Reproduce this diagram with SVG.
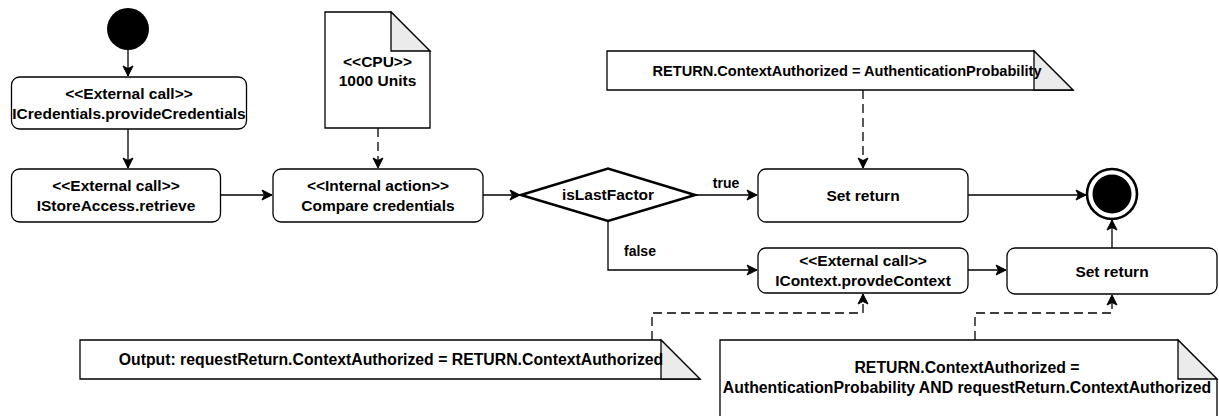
<svg xmlns="http://www.w3.org/2000/svg" width="1219" height="416" viewBox="0 0 1219 416">
  <style>
    .box { fill: #ffffff; stroke: #000000; stroke-width: 1.3; }
    .note { fill: #ffffff; stroke: #000000; stroke-width: 1.3; }
    .fold { fill: #ebebeb; stroke: #000000; stroke-width: 1.3; stroke-linejoin: miter; }
    .edge { fill: none; stroke: #000000; stroke-width: 1.3; }
    .dash { fill: none; stroke: #000000; stroke-width: 1.3; stroke-dasharray: 9 5; }
    text { font-family: "Liberation Sans", Arial, Helvetica, sans-serif; font-weight: bold; font-size: 15.5px; fill: #000000; text-anchor: middle; }
    .lbl { font-size: 14px; }
    .small { font-size: 14.6px; }
    .wide { font-size: 15.8px; }
  </style>
  <defs>
    <marker id="arrow" markerUnits="userSpaceOnUse" markerWidth="12" markerHeight="12" viewBox="-1 -6 12 12" refX="10" refY="0" orient="auto">
      <path d="M0,-5 L10,0 L0,5 L2.5,0 Z" fill="#000000" stroke="#000000" stroke-width="1"/>
    </marker>
  </defs>

  <!-- start state -->
  <g id="start">
    <circle cx="128" cy="29" r="21" fill="#000000"/>
  </g>

  <g id="provideCredentials">
    <rect class="box" x="11.5" y="77" width="235" height="52" rx="8"/>
    <text x="129" y="99">&lt;&lt;External call&gt;&gt;</text>
    <text x="129" y="119">ICredentials.provideCredentials</text>
  </g>

  <g id="retrieve">
    <rect class="box" x="11.5" y="169" width="209" height="53" rx="8"/>
    <text x="116" y="191">&lt;&lt;External call&gt;&gt;</text>
    <text x="116" y="211">IStoreAccess.retrieve</text>
  </g>

  <g id="cpuNote">
    <path class="note" d="M325,12 H391 L430,51 V128 H325 Z"/>
    <path class="fold" d="M391,12 V51 H430 Z"/>
    <text x="377.5" y="67">&lt;&lt;CPU&gt;&gt;</text>
    <text x="377.5" y="86">1000 Units</text>
  </g>

  <g id="compareCredentials">
    <rect class="box" x="273" y="169" width="210" height="53" rx="8"/>
    <text x="378" y="191">&lt;&lt;Internal action&gt;&gt;</text>
    <text x="378" y="211">Compare credentials</text>
  </g>

  <g id="isLastFactor">
    <path d="M521,195 L608,168.5 L695,195 L608,221 Z" fill="#ffffff" stroke="#000000" stroke-width="2.6" stroke-linejoin="miter"/>
    <text x="608" y="200">isLastFactor</text>
  </g>

  <g id="returnNote">
    <path class="note" d="M607,51 H1034 L1073,90 H607 Z"/>
    <path class="fold" d="M1034,51 V90 H1073 Z"/>
    <text class="small" x="847" y="76">RETURN.ContextAuthorized = AuthenticationProbability</text>
  </g>

  <g id="setReturnTrue">
    <rect class="box" x="758" y="169" width="210" height="53" rx="8"/>
    <text x="863" y="201">Set return</text>
  </g>

  <g id="provideContext">
    <rect class="box" x="758" y="248" width="210" height="45" rx="8"/>
    <text x="863" y="265.5">&lt;&lt;External call&gt;&gt;</text>
    <text x="863" y="285.5">IContext.provdeContext</text>
  </g>

  <g id="setReturnFalse">
    <rect class="box" x="1007" y="248" width="210" height="46" rx="8"/>
    <text x="1112" y="276.5">Set return</text>
  </g>

  <!-- final state -->
  <g id="end">
    <circle cx="1112" cy="194" r="25" fill="#ffffff" stroke="#000000" stroke-width="2.6"/>
    <circle cx="1112" cy="194" r="19.5" fill="#000000"/>
  </g>

  <g id="outputNote">
    <path class="note" d="M80,340 H661 L700,379 H80 Z"/>
    <path class="fold" d="M661,340 V379 H700 Z"/>
    <text class="wide" x="391" y="365">Output: requestReturn.ContextAuthorized = RETURN.ContextAuthorized</text>
  </g>

  <g id="combineNote">
    <path class="note" d="M720,340 H1178 L1217,379 V418 H720 Z"/>
    <path class="fold" d="M1178,340 V379 H1217 Z"/>
    <text class="wide" x="967" y="373">RETURN.ContextAuthorized =</text>
    <text class="wide" x="967" y="393">AuthenticationProbability AND requestReturn.ContextAuthorized</text>
  </g>

  <g id="connectors">
    <path class="edge" d="M128,50 V76" marker-end="url(#arrow)"/>
    <path class="edge" d="M128,129 V168" marker-end="url(#arrow)"/>
    <path class="edge" d="M220.5,195 H272" marker-end="url(#arrow)"/>
    <path class="dash" d="M378,128 V168" marker-end="url(#arrow)"/>
    <path class="edge" d="M483,195 H520" marker-end="url(#arrow)"/>
    <path class="edge" d="M695,195 H757" marker-end="url(#arrow)"/>
    <text class="lbl" x="726" y="188">true</text>
    <path class="edge" d="M608,221 V270 H757" marker-end="url(#arrow)"/>
    <text class="lbl" x="640" y="256">false</text>
    <path class="dash" d="M863,90 V168" marker-end="url(#arrow)"/>
    <path class="edge" d="M968,195 H1086" marker-end="url(#arrow)"/>
    <path class="edge" d="M968,270 H1006" marker-end="url(#arrow)"/>
    <path class="edge" d="M1112,248 V220" marker-end="url(#arrow)"/>
    <path class="dash" d="M652,340 V313 H863 V294" marker-end="url(#arrow)"/>
    <path class="dash" d="M975,340 V313 H1112 V295" marker-end="url(#arrow)"/>
  </g>
</svg>
